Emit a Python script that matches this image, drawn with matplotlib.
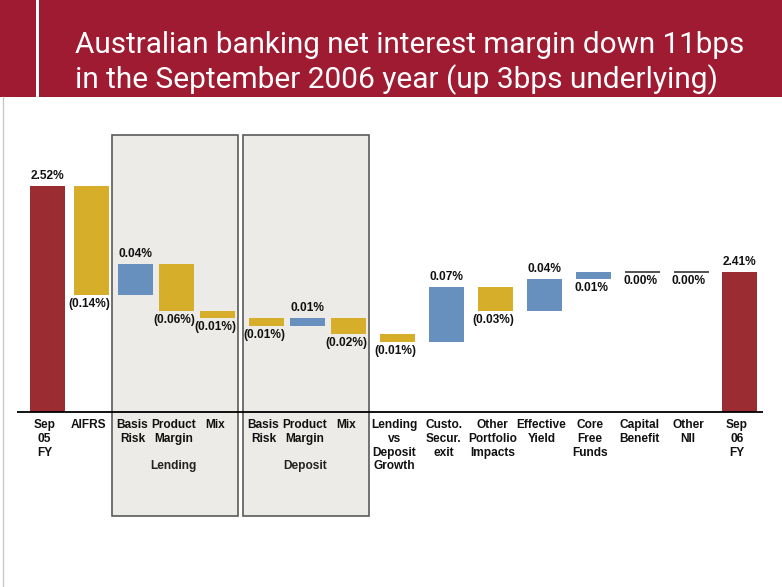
import matplotlib
matplotlib.use("Agg")
import matplotlib.pyplot as plt
from matplotlib.patches import Rectangle
import numpy as np

# ---------------- data ----------------
categories = ["Sep\n05\nFY", "AIFRS", "Basis\nRisk", "Product\nMargin", "Mix",
              "Basis\nRisk", "Product\nMargin", "Mix",
              "Lending\nvs\nDeposit\nGrowth", "Custo.\nSecur.\nexit",
              "Other\nPortfolio\nImpacts", "Effective\nYield", "Core\nFree\nFunds",
              "Capital\nBenefit", "Other\nNII", "Sep\n06\nFY"]
kinds = ["total"] + ["delta"] * 14 + ["total"]
values = [2.52, -0.14, 0.04, -0.06, -0.01, -0.01, 0.01, -0.02, -0.01,
          0.07, -0.03, 0.04, 0.01, 0.00, 0.00, 2.41]
label_side = ["above", "below", "above", "below", "below", "below", "above", "below",
              "below", "above", "below", "above", "below", "below", "below", "above"]
group_names = ["Lending", "Deposit"]
group_first = [2, 5]
group_last = [4, 7]
title_lines = ["Australian banking net interest margin down 11bps",
               "in the September 2006 year (up 3bps underlying)"]

# ---------------- layout / style ----------------
W, H = 782, 587
steps = [0.9, 0.9, 0.84, 0.84, 1, 0.84, 0.84, 1, 1, 1, 1, 1, 1, 1, 1]
UNIT_PX = 48.9
X0_PX = 47.5
BAR_W = 35 / UNIT_PX
BASE = 2.23           # value at the baseline
BASE_PX = 412         # pixel row of the baseline (from top)
PX_PER_PCT = 780

C_TOTAL = "#9B2D32"
C_NEG = "#D6AE29"
C_POS = "#6890BF"
C_BAND = "#9E1B32"
C_BOX = "#ECEBE7"
LABEL_FONT = "Liberation Sans"
FS = 8.6

positions = np.concatenate([[0.0], np.cumsum(steps)])

fig = plt.figure(figsize=(W / 100, H / 100), dpi=100)
ax = fig.add_axes([0, 0, 1, 1])
ax.set_xlim(-X0_PX / UNIT_PX, (W - X0_PX) / UNIT_PX)
ax.set_ylim(BASE - (H - BASE_PX) / PX_PER_PCT, BASE + BASE_PX / PX_PER_PCT)
ax.axis("off")


def ypx(py):
    """pixel row (from top) -> data value"""
    return BASE + (BASE_PX - py) / PX_PER_PCT


def xpx(px):
    return (px - X0_PX) / UNIT_PX


# title band
fig.patches.append(Rectangle((0, 1 - 97 / H), 1, 97 / H, transform=fig.transFigure,
                             facecolor=C_BAND, edgecolor="none", zorder=0))
fig.patches.append(Rectangle((36 / W, 1 - 97 / H), 3 / W, 97 / H, transform=fig.transFigure,
                             facecolor="white", edgecolor="none", zorder=1))
# slide left border
fig.lines.append(plt.Line2D([2.5 / W, 2.5 / W], [0, 1 - 97 / H], transform=fig.transFigure,
                            color="#C8C8C8", lw=1.0))

# title text fitted to reference width
renderer = fig.canvas.get_renderer()
title_targets = [(75, 53, 668), (75, 88, 642)]
for line, (tx, ty, tw) in zip(title_lines, title_targets):
    t = fig.text(tx / W, 1 - ty / H, line, color="white", family="Roboto",
                 fontsize=20, va="baseline", ha="left")
    w = t.get_window_extent(renderer).width
    t.set_fontsize(20 * tw / w)

# group boxes
for name, a, b in zip(group_names, group_first, group_last):
    left = positions[a] - 24 / UNIT_PX
    right = positions[b] + 20.5 / UNIT_PX
    ax.add_patch(Rectangle((left, ypx(516)), right - left, ypx(135) - ypx(516),
                           facecolor=C_BOX, edgecolor="#5A5A5A", lw=1.2, zorder=1))
    mid = positions[(a + b) // 2]
    ax.text(mid - 3 / UNIT_PX, ypx(466), name, ha="center", va="center",
            family=LABEL_FONT, fontweight="bold", fontsize=FS, color="#222222", zorder=5)

# bars
level = 0.0
for i, (x, v, k) in enumerate(zip(positions, values, kinds)):
    if k == "total":
        bottom, top = BASE, v
        color = C_TOTAL
        level = v
    else:
        bottom, top = level, level + v
        level = top
        color = C_POS if v > 0 else C_NEG
    if abs(top - bottom) < 1e-9:
        ax.hlines(top, x - BAR_W / 2, x + BAR_W / 2, color="#444444", lw=1.3, zorder=3)
    else:
        ax.bar(x, top - bottom, bottom=bottom, width=BAR_W, color=color,
               edgecolor="none", zorder=3)
    lab = f"{v:.2f}%" if v >= 0 else f"({abs(v):.2f}%)"
    hi, lo = max(top, bottom), min(top, bottom)
    if label_side[i] == "above":
        ax.text(x, hi + 4 / PX_PER_PCT, lab, ha="center", va="bottom",
                family=LABEL_FONT, fontweight="bold", fontsize=FS, color="#111111", zorder=5)
    else:
        ax.text(x - 2 / UNIT_PX, lo - 3 / PX_PER_PCT, lab, ha="center", va="top",
                family=LABEL_FONT, fontweight="bold", fontsize=FS, color="#111111", zorder=5)

# baseline
ax.hlines(BASE, xpx(17), xpx(763), color="black", lw=1.3, zorder=4)

# category labels
for x, c in zip(positions, categories):
    ax.text(x - 3 / UNIT_PX, ypx(419), c, ha="center", va="top", multialignment="center",
            family=LABEL_FONT, fontweight="bold", fontsize=FS, color="#111111",
            linespacing=1.2, zorder=5)

fig.savefig("out.png", dpi=100)
